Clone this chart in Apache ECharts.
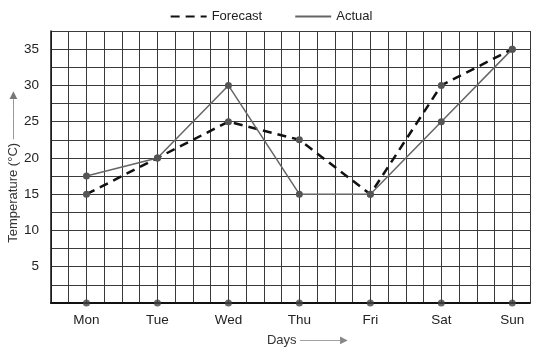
<!DOCTYPE html>
<html>
<head>
<meta charset="utf-8">
<script src="https://cdn.jsdelivr.net/npm/echarts@6/dist/echarts.min.js"></script>
<style>html,body{margin:0;padding:0;background:#fff}#c{width:542px;height:352px}</style>
</head>
<body>
<div id="c"></div>
<script>
const days = ['Mon','Tue','Wed','Thu','Fri','Sat','Sun'];
const forecast = [15, 20, 25, 22.5, 15, 30, 35];
const actual = [17.5, 20, 30, 15, 15, 25, 35];
const baseline = [0, 0, 0, 0, 0, 0, 0];
const yTicks = [5, 10, 15, 20, 25, 30, 35];

const toPts = arr => arr.map((v, i) => [i, v]);
const chart = echarts.init(document.getElementById('c'), null, {renderer: 'canvas'});
const font = 'Liberation Sans, Arial, sans-serif';
chart.setOption({
  animation: false,
  backgroundColor: '#fff',
  textStyle: {fontFamily: font},
  legend: {
    top: 5, left: 'center',
    itemWidth: 36, itemHeight: 10, itemGap: 32,
    textStyle: {fontSize: 13, color: '#222', fontFamily: font},
    itemStyle: {opacity: 0},
    data: ['Forecast', 'Actual']
  },
  grid: {left: 51, right: 12, top: 31, bottom: 49, outerBoundsMode: 'none', containLabel: false},
  xAxis: {
    type: 'value', min: -0.5, max: 6.25, interval: 0.25,
    name: 'Days {a|————▶}', nameLocation: 'middle', nameGap: 31,
    nameTextStyle: {fontSize: 13, color: '#333', fontFamily: font, padding: [0, 0, 0, 34], rich: {a: {color: '#888', fontSize: 10}}},
    axisLine: {show: true, onZero: false, lineStyle: {color: '#111', width: 2}},
    axisTick: {show: false},
    axisLabel: {
      fontSize: 13.5, color: '#222', margin: 10, showMinLabel: true, showMaxLabel: true,
      formatter: v => (Number.isInteger(v) && v >= 0 && v < days.length) ? days[v] : ''
    },
    splitLine: {show: true, lineStyle: {color: '#3a3a3a', width: 1}}
  },
  yAxis: {
    type: 'value', min: 0, max: 37.5, interval: 2.5,
    name: 'Temperature (°C) {a|————▶}', nameLocation: 'middle', nameGap: 31, nameMoveOverlap: false,
    nameTextStyle: {fontSize: 13, color: '#333', fontFamily: font, rich: {a: {color: '#777', fontSize: 10}}},
    axisLine: {show: true, onZero: false, lineStyle: {color: '#111', width: 1.5}},
    axisTick: {show: false},
    axisLabel: {
      fontSize: 13.5, color: '#222', margin: 12,
      formatter: v => yTicks.includes(v) ? String(v) : ''
    },
    splitLine: {show: true, lineStyle: {color: '#3a3a3a', width: 1}}
  },
  series: [
    {
      name: 'Forecast', type: 'line', data: toPts(forecast),
      symbol: 'circle', symbolSize: 7,
      itemStyle: {color: '#555'},
      lineStyle: {color: '#111', width: 2.5, type: [9, 6]},
      z: 3
    },
    {
      name: 'Actual', type: 'line', data: toPts(actual),
      symbol: 'circle', symbolSize: 7,
      itemStyle: {color: '#555'},
      lineStyle: {color: '#666', width: 1.5},
      z: 4
    },
    {
      name: 'base', type: 'scatter', data: toPts(baseline),
      symbol: 'circle', symbolSize: 7,
      itemStyle: {color: '#444'}, z: 5
    }
  ]
});
</script>
</body>
</html>
